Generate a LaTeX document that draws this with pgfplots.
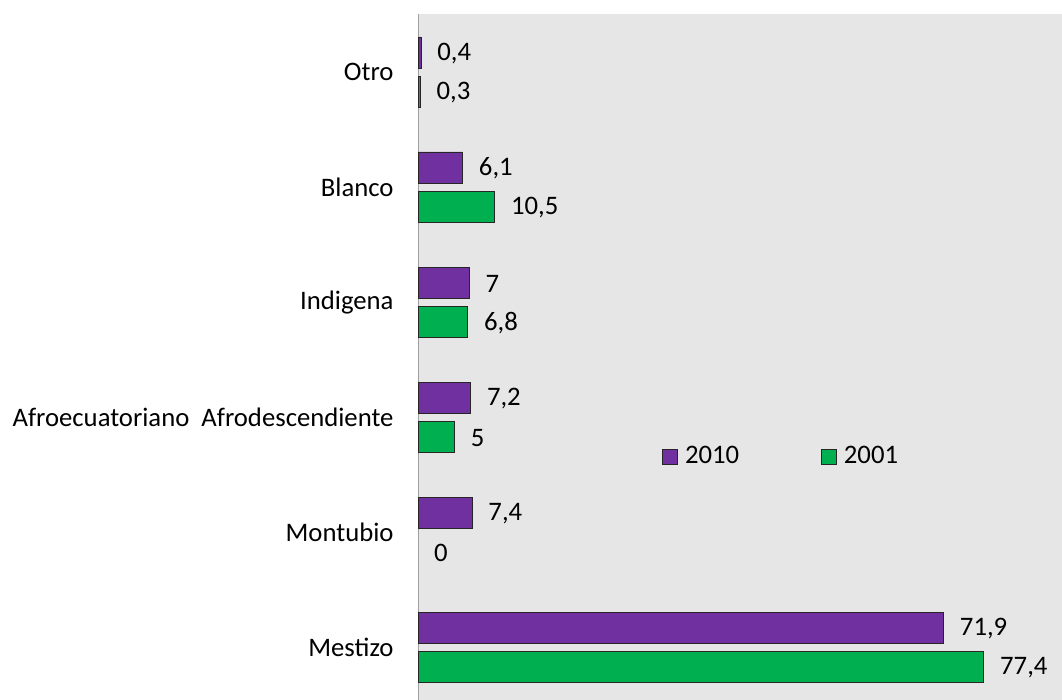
\documentclass[border=0pt]{standalone}
\usepackage{fontspec}
\setmainfont{Carlito}
\usepackage{pgfplots}
\pgfplotsset{compat=1.18}
\definecolor{purp}{RGB}{112,48,160}
\definecolor{grn}{RGB}{0,176,80}
\definecolor{bg}{RGB}{230,230,230}
\definecolor{axgray}{RGB}{160,160,160}
\begin{document}
\fontsize{26.7}{31}\selectfont
\begin{tikzpicture}
\path[use as bounding box] (0pt,0pt) rectangle (1062pt,700pt);
\begin{axis}[
  at={(418pt,0pt)}, anchor=south west,
  scale only axis, width=644pt, height=686pt,
  xbar, xmin=0, xmax=88.1, ymin=-0.46, ymax=5.505,
  bar width=0.27,
  axis background/.style={fill=bg},
  axis line style={draw=none},
  xtick=\empty,
  ytick={0,1,2,3,4,5},
  yticklabels={Mestizo\ ,Montubio,Afroecuatoriano\ \ Afrodescendiente,Indigena\ ,Blanco\ ,Otro},
  ytick style={draw=none},
  yticklabel style={anchor=east, inner sep=0pt, xshift=-20pt, text=black},
  nodes near coords={\pgfmathprintnumber[assume math mode=true,use comma]{\pgfplotspointmeta}},
  every node near coord/.append style={anchor=west, inner sep=0pt, xshift=16pt, yshift=-1pt, text=black},
  legend columns=2,
  legend style={at={(rel axis cs:0.3789,0.355)}, anchor=west, draw=none, fill=none, inner sep=0pt,
    nodes={inner sep=0pt},
    /tikz/every odd column/.append style={column sep=7pt},
    /tikz/every even column/.append style={column sep=82pt}},
]
\draw[axgray, line width=1pt] (rel axis cs:0,0) -- (rel axis cs:0,1);
\addplot[fill=purp, draw=black!85, line width=0.8pt, bar shift=0.17,
  legend image code/.code={\draw[fill=purp,draw=black!85,line width=0.8pt] (0pt,-7.5pt) rectangle (15pt,7.5pt);}]
  coordinates {(71.9,0) (7.4,1) (7.2,2) (7,3) (6.1,4) (0.4,5)};
\addlegendentry{2010}
\addplot[fill=grn, draw=black!85, line width=0.8pt, bar shift=-0.17,
  legend image code/.code={\draw[fill=grn,draw=black!85,line width=0.8pt] (0pt,-7.5pt) rectangle (15pt,7.5pt);}]
  coordinates {(77.4,0) (5,2) (6.8,3) (10.5,4) (0.3,5)};
\addlegendentry{2001}
\addplot[forget plot, draw=none, fill=none, bar shift=-0.17]
  coordinates {(0,1)};
\end{axis}
\end{tikzpicture}
\end{document}
